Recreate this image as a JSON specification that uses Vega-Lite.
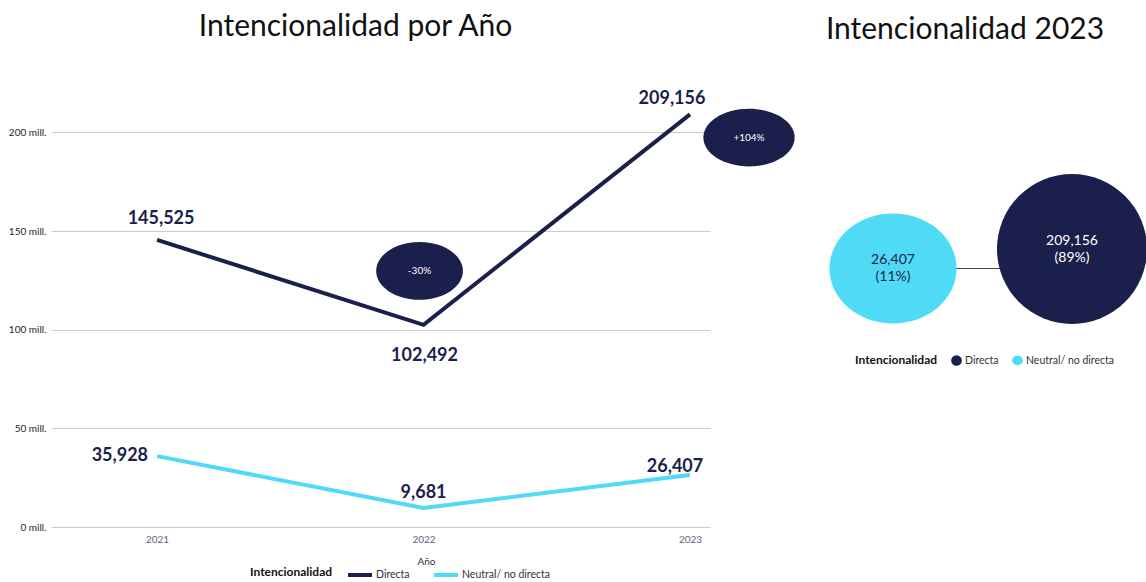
{
  "$schema": "https://vega.github.io/schema/vega-lite/v6.json",
  "padding": {"left": 8, "top": 12, "right": 0, "bottom": 0},
  "background": "white",
  "config": {"font": "Lato", "view": {"stroke": null}},
  "datasets": {
    "anual": [
      {"Año": 2021, "Intencionalidad": "Directa", "valor": 145525},
      {"Año": 2022, "Intencionalidad": "Directa", "valor": 102492},
      {"Año": 2023, "Intencionalidad": "Directa", "valor": 209156},
      {"Año": 2021, "Intencionalidad": "Neutral/ no directa", "valor": 35928},
      {"Año": 2022, "Intencionalidad": "Neutral/ no directa", "valor": 9681},
      {"Año": 2023, "Intencionalidad": "Neutral/ no directa", "valor": 26407}
    ],
    "cambio": [
      {"Año": 2022, "valor": 129800, "etiqueta": "-30%"},
      {"Año": 2023, "valor": 197400, "etiqueta": "+104%"}
    ],
    "total2023": [
      {"Intencionalidad": "Directa", "valor": 209156, "pct": "(89%)"},
      {"Intencionalidad": "Neutral/ no directa", "valor": 26407, "pct": "(11%)"}
    ]
  },
  "bounds": "flush",
  "spacing": 75,
  "resolve": {"scale": {"color": "independent", "x": "independent", "y": "independent", "size": "independent", "shape": "independent"}, "legend": {"color": "independent"}},
  "hconcat": [
    {
      "width": 659,
      "height": 434,
      "title": {"text": "Intencionalidad por Año", "fontSize": 30, "fontWeight": "normal", "color": "#111111", "anchor": "middle", "frame": "group", "dx": -25, "offset": 48},
      "layer": [
        {
          "data": {"name": "anual"},
          "mark": {"type": "line", "strokeWidth": 4},
          "encoding": {
            "x": {"field": "Año", "type": "quantitative", "scale": {"domain": [2020.602, 2023.075], "nice": false, "zero": false},
              "axis": {"values": [2021, 2022, 2023], "format": "d", "grid": false, "domain": false, "ticks": false, "labelColor": "#5f6180", "labelFontSize": 10, "labelPadding": 7, "title": "Año", "titleFontSize": 10, "titleFontWeight": "normal", "titleColor": "#333333", "titlePadding": 12, "titleX": 375}},
            "y": {"field": "valor", "type": "quantitative", "scale": {"domain": [0, 220000], "nice": false},
              "axis": {"values": [0, 50000, 100000, 150000, 200000], "labelExpr": "format(datum.value / 1000, 'd') + ' mill.'", "title": null, "domain": false, "ticks": false, "gridColor": "#cccccc", "labelColor": "#252423", "labelFontSize": 10, "labelPadding": 5}},
            "color": {"field": "Intencionalidad", "type": "nominal", "scale": {"domain": ["Directa", "Neutral/ no directa"], "range": ["#1b1f4b", "#4fdaf5"]},
              "legend": {"title": "Intencionalidad", "orient": "none", "legendX": 199, "legendY": 468, "direction": "horizontal", "titleOrient": "left", "titleAnchor": "middle", "titleBaseline": "middle", "titleFontSize": 12, "titleFontWeight": "bold", "titleColor": "#111111", "titlePadding": 13, "symbolType": "stroke", "symbolStrokeWidth": 4, "symbolSize": 576, "labelFontSize": 10.5, "labelColor": "#333333", "labelOffset": 2, "columnPadding": 16}}
          }
        },
        {
          "data": {"name": "cambio"},
          "transform": [{"filter": "datum.etiqueta == '-30%'"}],
          "mark": {"type": "point", "filled": true, "opacity": 1, "color": "#1b1f4b", "size": 7517, "xOffset": -4, "shape": "M -1 0 C -1 -0.367 -0.552 -0.665 0 -0.665 C 0.552 -0.665 1 -0.367 1 0 C 1 0.367 0.552 0.665 0 0.665 C -0.552 0.665 -1 0.367 -1 0 Z"},
          "encoding": {"x": {"field": "Año", "type": "quantitative"}, "y": {"field": "valor", "type": "quantitative"}}
        },
        {
          "data": {"name": "cambio"},
          "transform": [{"filter": "datum.etiqueta == '+104%'"}],
          "mark": {"type": "point", "filled": true, "opacity": 1, "color": "#1b1f4b", "size": 8336, "xOffset": 59, "shape": "M -1 0 C -1 -0.349 -0.552 -0.632 0 -0.632 C 0.552 -0.632 1 -0.349 1 0 C 1 0.349 0.552 0.632 0 0.632 C -0.552 0.632 -1 0.349 -1 0 Z"},
          "encoding": {"x": {"field": "Año", "type": "quantitative"}, "y": {"field": "valor", "type": "quantitative"}}
        },
        {
          "data": {"name": "cambio"},
          "transform": [{"filter": "datum.etiqueta == '-30%'"}],
          "mark": {"type": "text", "color": "#ffffff", "fontSize": 10, "baseline": "middle", "xOffset": -4},
          "encoding": {"x": {"field": "Año", "type": "quantitative"}, "y": {"field": "valor", "type": "quantitative"}, "text": {"field": "etiqueta"}}
        },
        {
          "data": {"name": "cambio"},
          "transform": [{"filter": "datum.etiqueta == '+104%'"}],
          "mark": {"type": "text", "color": "#ffffff", "fontSize": 10, "baseline": "middle", "xOffset": 59},
          "encoding": {"x": {"field": "Año", "type": "quantitative"}, "y": {"field": "valor", "type": "quantitative"}, "text": {"field": "etiqueta"}}
        },
        {
          "data": {"name": "anual"},
          "transform": [{"filter": "datum.Intencionalidad == 'Directa' && datum['Año'] == 2021"}],
          "mark": {"type": "text", "fontSize": 18, "fontWeight": "bold", "color": "#1b1f4b", "baseline": "alphabetic", "dx": 4, "dy": -16},
          "encoding": {"x": {"field": "Año", "type": "quantitative"}, "y": {"field": "valor", "type": "quantitative"}, "text": {"field": "valor", "type": "quantitative", "format": ","}}
        },
        {
          "data": {"name": "anual"},
          "transform": [{"filter": "datum.Intencionalidad == 'Directa' && datum['Año'] == 2022"}],
          "mark": {"type": "text", "fontSize": 18, "fontWeight": "bold", "color": "#1b1f4b", "baseline": "alphabetic", "dx": 1, "dy": 36},
          "encoding": {"x": {"field": "Año", "type": "quantitative"}, "y": {"field": "valor", "type": "quantitative"}, "text": {"field": "valor", "type": "quantitative", "format": ","}}
        },
        {
          "data": {"name": "anual"},
          "transform": [{"filter": "datum.Intencionalidad == 'Directa' && datum['Año'] == 2023"}],
          "mark": {"type": "text", "fontSize": 18, "fontWeight": "bold", "color": "#1b1f4b", "baseline": "alphabetic", "dx": -18, "dy": -10},
          "encoding": {"x": {"field": "Año", "type": "quantitative"}, "y": {"field": "valor", "type": "quantitative"}, "text": {"field": "valor", "type": "quantitative", "format": ","}}
        },
        {
          "data": {"name": "anual"},
          "transform": [{"filter": "datum.Intencionalidad == 'Neutral/ no directa' && datum['Año'] == 2021"}],
          "mark": {"type": "text", "fontSize": 18, "fontWeight": "bold", "color": "#1b1f4b", "baseline": "alphabetic", "align": "right", "dx": -9, "dy": 5},
          "encoding": {"x": {"field": "Año", "type": "quantitative"}, "y": {"field": "valor", "type": "quantitative"}, "text": {"field": "valor", "type": "quantitative", "format": ","}}
        },
        {
          "data": {"name": "anual"},
          "transform": [{"filter": "datum.Intencionalidad == 'Neutral/ no directa' && datum['Año'] == 2022"}],
          "mark": {"type": "text", "fontSize": 18, "fontWeight": "bold", "color": "#1b1f4b", "baseline": "alphabetic", "dx": 0, "dy": -10},
          "encoding": {"x": {"field": "Año", "type": "quantitative"}, "y": {"field": "valor", "type": "quantitative"}, "text": {"field": "valor", "type": "quantitative", "format": ","}}
        },
        {
          "data": {"name": "anual"},
          "transform": [{"filter": "datum.Intencionalidad == 'Neutral/ no directa' && datum['Año'] == 2023"}],
          "mark": {"type": "text", "fontSize": 18, "fontWeight": "bold", "color": "#1b1f4b", "baseline": "alphabetic", "dx": -15, "dy": -3},
          "encoding": {"x": {"field": "Año", "type": "quantitative"}, "y": {"field": "valor", "type": "quantitative"}, "text": {"field": "valor", "type": "quantitative", "format": ","}}
        }
      ]
    },
    {
      "width": 352,
      "height": 434,
      "title": {"text": "Intencionalidad 2023", "fontSize": 30, "fontWeight": "normal", "color": "#111111", "anchor": "middle", "frame": "group", "dx": 4, "offset": 48},
      "data": {"name": "total2023"},
      "encoding": {
        "x": {"field": "Intencionalidad", "type": "nominal", "scale": {"type": "point", "domain": ["Neutral/ no directa", "Directa"], "range": [108, 287], "padding": 0}, "axis": null},
        "y": {"field": "valor", "type": "quantitative", "scale": {"domain": [26407, 209156], "range": [175.5, 156], "zero": false, "nice": false}, "axis": null}
      },
      "layer": [
        {
          "transform": [{"filter": "datum.Intencionalidad == 'Neutral/ no directa'"}],
          "mark": {"type": "rule", "color": "#444444", "strokeWidth": 1},
          "encoding": {"x2": {"datum": "Directa"}}
        },
        {
          "mark": {"type": "point", "filled": true, "opacity": 1},
          "encoding": {
            "color": {"field": "Intencionalidad", "type": "nominal", "scale": {"domain": ["Directa", "Neutral/ no directa"], "range": ["#1b1f4b", "#4fdaf5"]},
              "legend": {"title": "Intencionalidad", "orient": "none", "legendX": 70, "legendY": 261, "direction": "horizontal", "titleOrient": "left", "titleAnchor": "middle", "titleBaseline": "middle", "titleFontSize": 12, "titleFontWeight": "bold", "titleColor": "#111111", "titlePadding": 12, "symbolType": "circle", "symbolSize": 115, "labelFontSize": 10.5, "labelColor": "#333333", "labelOffset": 2, "columnPadding": 12}},
            "shape": {"field": "Intencionalidad", "type": "nominal", "scale": {"domain": ["Directa", "Neutral/ no directa"], "range": ["circle", "M -1 0 C -1 -0.478 -0.552 -0.866 0 -0.866 C 0.552 -0.866 1 -0.478 1 0 C 1 0.478 0.552 0.866 0 0.866 C -0.552 0.866 -1 0.478 -1 0 Z"]}, "legend": null},
            "size": {"field": "valor", "type": "quantitative", "scale": {"domain": [26407, 209156], "range": [16129, 22500], "zero": false}, "legend": null}
          }
        },
        {
          "mark": {"type": "text", "fontSize": 14, "baseline": "middle", "dy": -8.5},
          "encoding": {
            "text": {"field": "valor", "type": "quantitative", "format": ","},
            "color": {"condition": {"test": "datum.Intencionalidad == 'Directa'", "value": "#ffffff"}, "value": "#1b1f4b"}
          }
        },
        {
          "mark": {"type": "text", "fontSize": 14, "baseline": "middle", "dy": 8.5},
          "encoding": {
            "text": {"field": "pct"},
            "color": {"condition": {"test": "datum.Intencionalidad == 'Directa'", "value": "#ffffff"}, "value": "#1b1f4b"}
          }
        }
      ]
    }
  ]
}
